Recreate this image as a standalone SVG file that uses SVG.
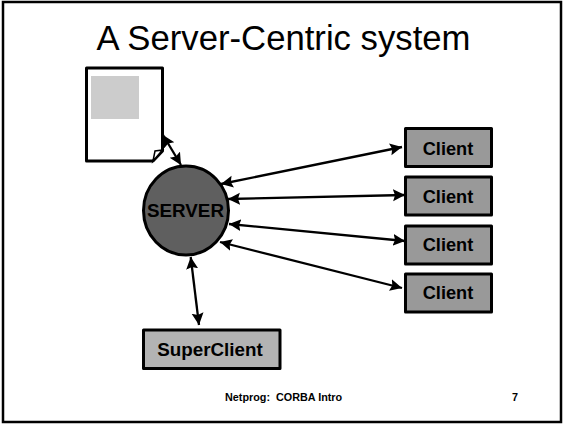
<svg xmlns="http://www.w3.org/2000/svg" width="564" height="424" viewBox="0 0 564 424">
<style>
text{font-family:"Liberation Sans",Arial,sans-serif;fill:#000}
.box{stroke:#000;stroke-width:3;stroke-linejoin:round}
.c{fill:#999}
.l{font-size:18.200px;font-weight:bold;text-anchor:middle}
.f{font-size:10.800px;font-weight:bold;white-space:pre}
.cn{stroke:#000;stroke-width:2.300;fill:none;marker-start:url(#a);marker-end:url(#a)}
</style>
<defs><marker id="a" markerUnits="userSpaceOnUse" markerWidth="14" markerHeight="13" refX="12" refY="6" orient="auto-start-reverse" viewBox="0 0 14 13"><path d="M0 0L12 6L0 12L2 6Z" fill="#000"/></marker></defs>
<rect x="0" y="0" width="564" height="424" fill="#fff"/>
<rect id="frame" x="3" y="2" width="558" height="420" fill="#fff" stroke="#000" stroke-width="2.500"/>
<text id="title" x="283.500" y="50" font-size="34.700" text-anchor="middle">A Server-Centric system</text>
<g id="connectors">
<line class="cn" x1="221" y1="184" x2="402" y2="147"/>
<line class="cn" x1="228" y1="199" x2="405" y2="195"/>
<line class="cn" x1="229" y1="224" x2="405" y2="241"/>
<line class="cn" x1="220" y1="242" x2="402" y2="288"/>
<line class="cn" x1="163" y1="135" x2="181" y2="165"/>
<line class="cn" x1="190.700" y1="257" x2="199" y2="325"/>
</g>
<g id="document">
<path d="M86.500 68H162.500V151L153 161H86.500Z" fill="#fff" stroke="#000" stroke-width="3" stroke-linejoin="round"/>
<path d="M153 161L155 151L162.500 150Z" fill="#fff" stroke="#000" stroke-width="1.500"/>
<rect x="91" y="76" width="48" height="43" fill="#ccc"/>
</g>
<g id="server">
<ellipse cx="186" cy="210.500" rx="42.500" ry="44.500" fill="#5f5f5f" stroke="#000" stroke-width="3"/>
<text class="l" x="185.500" y="217" style="font-size:18.800px">SERVER</text>
</g>
<g id="client1"><rect class="box c" x="405.500" y="128.500" width="86" height="38"/><text class="l" x="448" y="154.500">Client</text></g>
<g id="client2"><rect class="box c" x="405.500" y="177" width="86" height="38"/><text class="l" x="448" y="202.500">Client</text></g>
<g id="client3"><rect class="box c" x="405.500" y="226" width="86" height="38"/><text class="l" x="448" y="250.500">Client</text></g>
<g id="client4"><rect class="box c" x="405.500" y="274" width="86" height="38"/><text class="l" x="448" y="299">Client</text></g>
<g id="superclient"><rect class="box" fill="#b3b3b3" x="143.500" y="330" width="136.500" height="38.500"/><text class="l" x="210" y="356" style="font-size:18.800px">SuperClient</text></g>
<text id="footer" class="f" x="225" y="401">Netprog:  CORBA Intro</text>
<text id="page" class="f" x="512" y="401">7</text>
</svg>
